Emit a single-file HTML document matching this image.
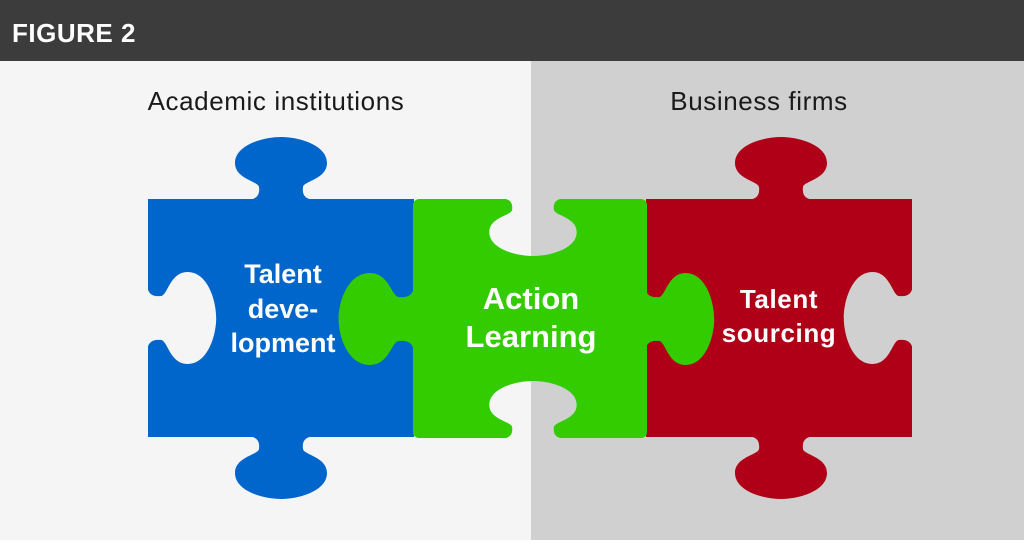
<!DOCTYPE html>
<html><head><meta charset="utf-8"><style>
body{margin:0;width:1024px;height:540px;overflow:hidden;font-family:"Liberation Sans",sans-serif}
</style></head><body>
<svg width="1024" height="540" viewBox="0 0 1024 540" xmlns="http://www.w3.org/2000/svg">
<defs>
<path id="tab" d="M -36,1 C -24,1 -21,-4 -22,-12 C -23,-18 -46,-20 -46,-36 C -46,-54 -18,-62 0,-62 C 18,-62 46,-54 46,-36 C 46,-20 23,-18 22,-12 C 21,-4 24,1 36,1 Z"/>
<mask id="mb" maskUnits="userSpaceOnUse" x="0" y="0" width="1024" height="540">
<rect x="0" y="0" width="1024" height="540" fill="#fff"/>
<use href="#tab" fill="#000" transform="translate(148,318) rotate(90) scale(1,1.1)"/>
</mask>
<mask id="mr" maskUnits="userSpaceOnUse" x="0" y="0" width="1024" height="540">
<rect x="0" y="0" width="1024" height="540" fill="#fff"/>
<use href="#tab" fill="#000" transform="translate(912,318) rotate(-90) scale(1,1.1)"/>
</mask>
<mask id="mg" maskUnits="userSpaceOnUse" x="0" y="0" width="1024" height="540">
<rect x="0" y="0" width="1024" height="540" fill="#fff"/>
<use href="#tab" fill="#000" transform="translate(533,199) rotate(180) scale(0.95,0.92)"/>
<use href="#tab" fill="#000" transform="translate(533,438) scale(0.95,0.92)"/>
</mask>
</defs>
<rect x="0" y="0" width="531" height="540" fill="#f5f5f5"/>
<rect x="531" y="0" width="493" height="540" fill="#d0d0d0"/>
<rect x="0" y="0" width="1024" height="61" fill="#3c3c3c"/>
<text x="12" y="42" fill="#fff" font-size="26" font-weight="bold" letter-spacing="0.5">FIGURE 2</text>
<text x="276" y="110" fill="#1a1a1a" font-size="26" text-anchor="middle" letter-spacing="0.6">Academic institutions</text>
<text x="759" y="110" fill="#1a1a1a" font-size="26" text-anchor="middle" letter-spacing="0.6">Business firms</text>

<g fill="#0066cc" mask="url(#mb)">
<rect x="148" y="199" width="266" height="238"/>
<use href="#tab" transform="translate(281,199)"/>
<use href="#tab" transform="translate(281,437) rotate(180)"/>
</g>
<g fill="#b00018" mask="url(#mr)">
<rect x="646" y="199" width="266" height="238"/>
<use href="#tab" transform="translate(781,199)"/>
<use href="#tab" transform="translate(781,437) rotate(180)"/>
</g>
<g fill="#33cc00" mask="url(#mg)">
<rect x="413" y="199" width="234" height="239" rx="6"/>
<use href="#tab" transform="translate(413,319) rotate(-90) scale(1,1.2)"/>
<use href="#tab" transform="translate(646,319) rotate(90) scale(1,1.1)"/>
</g>

<g fill="#fff" font-weight="bold" text-anchor="middle">
<text x="283" y="283" font-size="27">Talent</text>
<text x="283" y="318" font-size="27">deve-</text>
<text x="283" y="352" font-size="27">lopment</text>
<text x="531" y="309" font-size="31">Action</text>
<text x="531" y="347" font-size="31">Learning</text>
<text x="779" y="308" font-size="26" letter-spacing="0.6">Talent</text>
<text x="779" y="342" font-size="26" letter-spacing="0.6">sourcing</text>
</g>
</svg>
</body></html>
